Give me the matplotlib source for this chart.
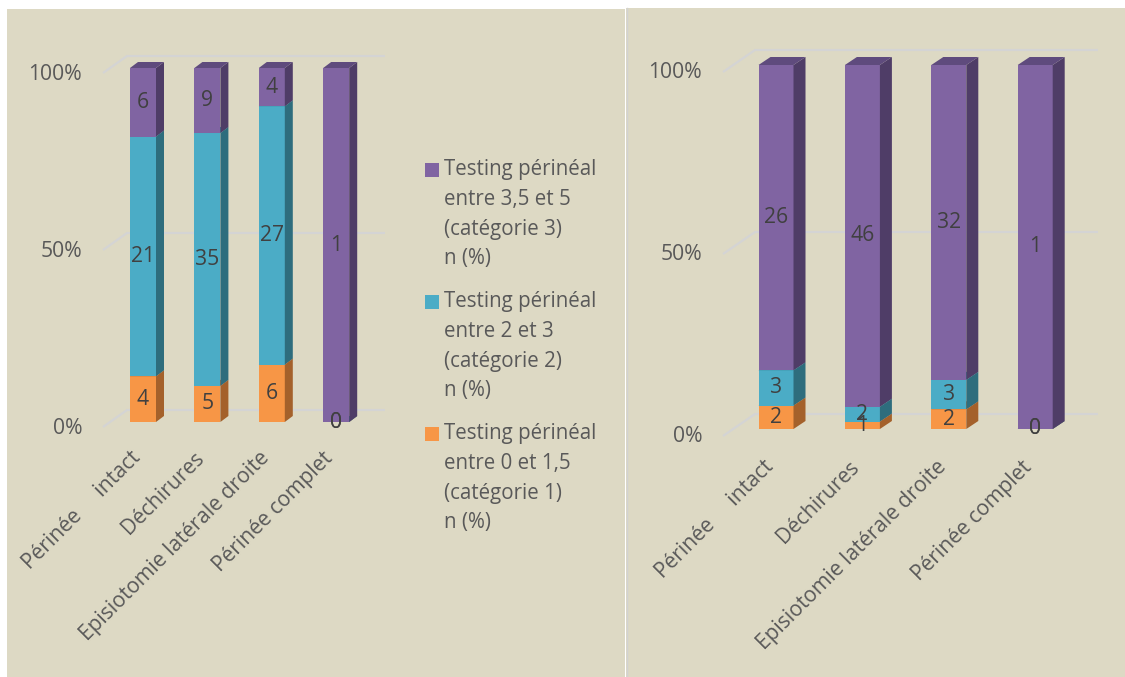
import matplotlib.pyplot as plt
from matplotlib.patches import Polygon, Rectangle

plt.rcParams['font.family'] = ['Open Sans', 'DejaVu Sans']

# categories and counts (n) per testing class
categories = ['Périnée     intact', 'Déchirures', 'Episiotomie latérale droite', 'Périnée complet']
legend_labels = [
    ['Testing périnéal', 'entre 3,5 et 5', '(catégorie 3)', 'n (%)'],
    ['Testing périnéal', 'entre 2 et 3', '(catégorie 2)', 'n (%)'],
    ['Testing périnéal', 'entre 0 et 1,5', '(catégorie 1)', 'n (%)'],
]
left_cat1 = [4, 5, 6, 0]
left_cat2 = [21, 35, 27, 0]
left_cat3 = [6, 9, 4, 1]
right_cat1 = [2, 1, 2, 0]
right_cat2 = [3, 2, 3, 0]
right_cat3 = [26, 46, 32, 1]
pct_ticks = [0, 50, 100]
pct_labels = ['0%', '50%', '100%']

# colours: cat1, cat2, cat3
FRONT = ['#F79646', '#4BACC6', '#8064A2']
SIDE = ['#A4612B', '#2E6D7D', '#4F3D67']
TOP = ['#C2743A', '#3A8A9F', '#5F4B7D']
BG = '#DDD9C4'
GRID = '#D4D4D4'
TXT = '#595959'
LBL = '#404040'
FS = 15.2

W, H = 1125, 677
fig = plt.figure(figsize=(11.25, 6.77), dpi=100)
fig.patch.set_facecolor('white')
fig.patches.append(Rectangle((7 / W, 0), 618 / W, 668 / H, transform=fig.transFigure,
                             facecolor=BG, edgecolor='none', zorder=-5))
fig.patches.append(Rectangle((626 / W, 0), 499 / W, 669 / H, transform=fig.transFigure,
                             facecolor=BG, edgecolor='none', zorder=-5))
fig.add_artist(plt.Line2D([626.5 / W, 626.5 / W], [0, 669 / H], transform=fig.transFigure,
                          color='#D2D2D2', lw=1.0))

# panel geometry in pixels
left_geom = dict(cx0=143, step=64.4, y0=422, y100=68, box=(90, 30, 400, 440),
                 width=26, ddx=8, ddy=6, grid=(103, 127, 385, 5, 12),
                 ytx=82, yty=6, xlx=-6, xly=33)
right_geom = dict(cx0=776, step=86.4, y0=429, y100=65, box=(700, 30, 1110, 445),
                  width=35, ddx=12, ddy=8, grid=(723, 755, 1098, 7, 15),
                  ytx=702, yty=7.5, xlx=-6, xly=35)


def draw_panel(c1, c2, c3, g):
    L, T, R, B = g['box']
    sx = g['step']
    k = (g['y0'] - g['y100']) / 100
    ax = fig.add_axes([L / W, 1 - B / H, (R - L) / W, (B - T) / H])
    ax.set_xlim((L - g['cx0']) / sx, (R - g['cx0']) / sx)
    ax.set_ylim((g['y0'] - B) / k, (g['y0'] - T) / k)
    ax.axis('off')

    # back gridlines with the 3D floor diagonal
    xf, xb, xr, fo, bo = g['grid']
    for v, lab in zip(pct_ticks, pct_labels):
        ax.plot([(xf - g['cx0']) / sx, (xb - g['cx0']) / sx, (xr - g['cx0']) / sx],
                [v - fo / k, v + bo / k, v + bo / k], color=GRID, lw=1.6, zorder=0,
                clip_on=False, solid_capstyle='butt')
        ax.text((g['ytx'] - g['cx0']) / sx, v - g['yty'] / k, lab,
                ha='right', va='center', fontsize=FS, color=TXT, clip_on=False)

    counts = [c1, c2, c3]
    totals = [a + b + c for a, b, c in zip(c1, c2, c3)]
    w = g['width'] / sx
    dx = g['ddx'] / sx
    dy = g['ddy'] / k
    bottoms = [0.0] * len(categories)
    labels = []
    for s, series in enumerate(counts):
        pct = [n / t * 100 for n, t in zip(series, totals)]
        xs = list(range(len(categories)))
        ax.bar(xs, pct, bottom=bottoms, width=w, color=FRONT[s], zorder=2 + s * 0.1)
        for i in xs:
            b, h = bottoms[i], pct[i]
            xr_ = i + w / 2
            ax.add_patch(Polygon([(xr_, b), (xr_ + dx, b + dy), (xr_ + dx, b + h + dy), (xr_, b + h)],
                                 closed=True, facecolor=SIDE[s], edgecolor='none', zorder=2 + s * 0.1))
            ax.add_patch(Polygon([(i - w / 2, b + h), (xr_, b + h), (xr_ + dx, b + h + dy),
                                  (i - w / 2 + dx, b + h + dy)],
                                 closed=True, facecolor=TOP[s], edgecolor='none', zorder=2 + s * 0.1))
            labels.append((i, b + h / 2, series[i]))
        bottoms = [b + p for b, p in zip(bottoms, pct)]

    for x, y, n in labels:
        ax.text(x, y, str(n), ha='center', va='center', fontsize=FS, color=LBL, zorder=5)

    for i, name in enumerate(categories):
        ax.text(i + g['xlx'] / sx, -g['xly'] / k, name, rotation=45, rotation_mode='anchor',
                ha='right', va='center', fontsize=FS, color=TXT, clip_on=False)
    return ax


draw_panel(left_cat1, left_cat2, left_cat3, left_geom)
draw_panel(right_cat1, right_cat2, right_cat3, right_geom)

# legend (purple, blue, orange), drawn in the left panel
for j, lines in enumerate(legend_labels):
    top = 170 + j * 132
    color = FRONT[2 - j]
    fig.patches.append(Rectangle((425 / W, 1 - (top + 7) / H), 14 / W, 14 / H,
                                 transform=fig.transFigure, facecolor=color, edgecolor='none'))
    for m, line in enumerate(lines):
        fig.text(444 / W, 1 - (top + m * 29.5) / H, line, ha='left', va='center',
                 fontsize=14.8, color=TXT)

fig.savefig('out.png', dpi=100)
